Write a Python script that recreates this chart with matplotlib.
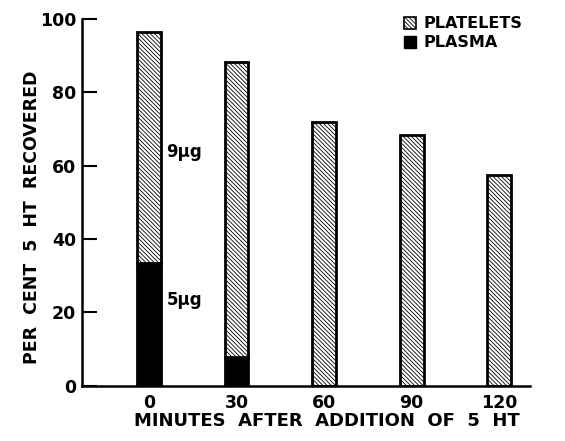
import matplotlib
matplotlib.use("Agg")
import matplotlib.pyplot as plt
from matplotlib.patches import Patch
import numpy as np

# data
minutes   = ["0", "30", "60", "90", "120"]
plasma    = [33.5, 8, 0, 0, 0]
total     = [96.5, 88.3, 72, 68.5, 57.5]
platelets = [t - p for t, p in zip(total, plasma)]

plt.rcParams["font.family"] = ["DejaVu Sans"]
plt.rcParams["font.weight"] = "bold"
plt.rcParams["hatch.linewidth"] = 0.6

HATCH = "\\\\\\\\\\\\\\\\"

fig = plt.figure(figsize=(5.65, 4.41), dpi=100)
ax = fig.add_axes([0.145, 0.125, 0.793, 0.832])

x = np.arange(len(minutes))
w = 0.27
ax.bar(x, plasma, w, color="black", edgecolor="black", linewidth=2)
ax.bar(x, platelets, w, bottom=plasma, color="white", edgecolor="black",
       hatch=HATCH, linewidth=2)

ax.text(0.2, 63.8, "9\u00b5g", fontsize=12, fontweight="bold", va="center")
ax.text(0.2, 23.4, "5\u00b5g", fontsize=12, fontweight="bold", va="center")

handles = [Patch(facecolor="white", edgecolor="black", hatch=HATCH, linewidth=1.2),
           Patch(facecolor="black", edgecolor="black")]
ax.legend(handles, ["PLATELETS", "PLASMA"], loc="upper left",
          bbox_to_anchor=(0.705, 1.025), frameon=False, fontsize=11.5,
          handlelength=0.75, handleheight=0.8, handletextpad=0.45,
          labelspacing=0.25, borderaxespad=0)

ax.set_xlim(-0.766, 4.35)
ax.set_ylim(0, 100)
ax.set_xticks(x)
ax.set_xticklabels(minutes)
ax.set_yticks([0, 20, 40, 60, 80, 100])
ax.tick_params(axis="x", length=0, labelsize=12.5, pad=6)
ax.tick_params(axis="y", direction="in", length=11, width=1.5, labelsize=12.5, pad=4)
for s in ["top", "right"]:
    ax.spines[s].set_visible(False)
for s in ["left", "bottom"]:
    ax.spines[s].set_linewidth(1.8)

ax.set_ylabel("PER  CENT  5  HT  RECOVERED", fontsize=12.5, fontweight="bold")
ax.yaxis.set_label_coords(-0.092, 0.46)
ax.set_xlabel("MINUTES  AFTER  ADDITION  OF  5  HT", fontsize=13, fontweight="bold")
ax.xaxis.set_label_coords(0.547, -0.072)

fig.savefig("out.png", dpi=100)
